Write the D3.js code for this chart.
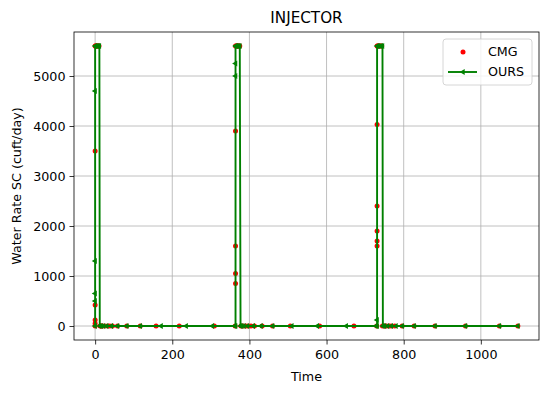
<!DOCTYPE html>
<meta charset="utf-8">
<style>
body { margin: 0; background: #fff; }
text { font-family: "DejaVu Sans", sans-serif; fill: #000; }
.grid line { stroke: #b0b0b0; stroke-width: 0.8; }
.axis path { display: none; }
.axis line { stroke: #000; stroke-width: 0.8; }
.axis text { font-size: 12.7px; }
</style>
<svg width="549" height="393"></svg>
<script src="https://cdn.jsdelivr.net/npm/d3@7"></script>
<script>

// CMG reference results (red dots)
var cmgTime = [0, 0, 0, 0, 0, 0, 1, 2, 4, 6, 8, 10,
    13, 15, 17, 23, 32, 38, 45, 58, 82, 117, 158, 218, 309, 363,
    364, 364, 364, 364, 364, 365, 367, 369, 371, 373, 375,
    378, 383, 390, 396, 404, 413, 433, 460, 506, 582, 671, 730,
    731, 731, 731, 731, 731, 731, 732, 734, 737, 740, 743,
    745, 750, 755, 762, 768, 777, 796, 827, 881, 960, 1048, 1096];
var cmgRate = [0, 50, 120, 420, 3500, 5600, 5600, 5600, 5600, 5600, 5600, 5600,
    0, 0, 0, 0, 0, 0, 0, 0, 0, 0, 0, 0, 0, 0,
    850, 1050, 1600, 3900, 5600, 5600, 5600, 5600, 5600, 5600, 5600,
    0, 0, 0, 0, 0, 0, 0, 0, 0, 0, 0, 0,
    1600, 1700, 1900, 2400, 4030, 5600, 5600, 5600, 5600, 5600, 5600,
    0, 0, 0, 0, 0, 0, 0, 0, 0, 0, 0, 0];

// our simulator (green line)
var oursTime = [0, 0, 0, 0, 0, 0, 2, 5, 8, 11,
    12, 16, 22, 30, 42, 58, 82, 117, 171, 236, 304, 362,
    364, 364, 364, 364, 366, 369, 372, 375,
    377, 380, 386, 395, 410, 430, 460, 510, 576, 651, 728,
    731, 731, 731, 734, 738, 742, 745,
    746, 750, 758, 768, 780, 796, 827, 881, 960, 1048, 1096];
var oursRate = [0, 500, 650, 1300, 4700, 5600, 5600, 5600, 5600, 5600,
    0, 0, 0, 0, 0, 0, 0, 0, 0, 0, 0, 0,
    0, 5000, 5250, 5600, 5600, 5600, 5600, 5600,
    0, 0, 0, 0, 0, 0, 0, 0, 0, 0, 0,
    0, 120, 5600, 5600, 5600, 5600, 5600,
    0, 0, 0, 0, 0, 0, 0, 0, 0, 0, 0];

var xTicks = [0, 200, 400, 600, 800, 1000];
var yTicks = [0, 1000, 2000, 3000, 4000, 5000];

var svg = d3.select("svg"),
    margin = {top: 32, right: 10, bottom: 53, left: 74},
    width = +svg.attr("width") - margin.left - margin.right,
    height = +svg.attr("height") - margin.top - margin.bottom,
    g = svg.append("g").attr("transform", "translate(" + margin.left + "," + margin.top + ")");

// matplotlib style 5% margins
var xmax = d3.max(oursTime), ymax = d3.max(cmgRate);
var x = d3.scaleLinear().domain([-0.05 * xmax, xmax * 1.05]).range([0, width]);
var y = d3.scaleLinear().domain([-0.05 * ymax, ymax * 1.05]).range([height, 0]);

// grid
g.append("g").attr("class", "grid")
    .selectAll("line").data(xTicks).enter().append("line")
    .attr("x1", d => x(d)).attr("x2", d => x(d))
    .attr("y1", 0).attr("y2", height);
g.append("g").attr("class", "grid")
    .selectAll("line").data(yTicks).enter().append("line")
    .attr("y1", d => y(d)).attr("y2", d => y(d))
    .attr("x1", 0).attr("x2", width);

// axes
g.append("g").attr("class", "axis")
    .attr("transform", "translate(0," + height + ")")
    .call(d3.axisBottom(x).tickValues(xTicks).tickFormat(d3.format("d")).tickSizeOuter(0).tickSize(4.5).tickPadding(5));
g.append("g").attr("class", "axis")
    .call(d3.axisLeft(y).tickValues(yTicks).tickFormat(d3.format("d")).tickSizeOuter(0).tickSize(4.5).tickPadding(4));

// CMG dots
var cmg = cmgTime.map((t, i) => [t, cmgRate[i]]);
g.append("g").selectAll("circle").data(cmg).enter().append("circle")
    .attr("cx", d => x(d[0])).attr("cy", d => y(d[1]))
    .attr("r", 2.5).attr("fill", "#ff0000");

// OURS line + markers
var ours = oursTime.map((t, i) => [t, oursRate[i]]);
g.append("path").datum(ours)
    .attr("fill", "none").attr("stroke", "#008000").attr("stroke-width", 1.9)
    .attr("stroke-linejoin", "round")
    .attr("d", d3.line().x(d => x(d[0])).y(d => y(d[1])));

var tri = d3.symbol().type(d3.symbolTriangle).size(15);
g.append("g").selectAll("path").data(ours).enter().append("path")
    .attr("d", tri)
    .attr("fill", "#008000")
    .attr("transform", d => "translate(" + x(d[0]) + "," + y(d[1]) + ") rotate(-90)");

// frame
g.append("rect").attr("width", width).attr("height", height)
    .attr("fill", "none").attr("stroke", "#000").attr("stroke-width", 0.8);

// title & labels
svg.append("text").attr("x", margin.left + width / 2).attr("y", 23)
    .attr("text-anchor", "middle").style("font-size", "15.2px").text("INJECTOR");
svg.append("text").attr("x", margin.left + width / 2).attr("y", 381)
    .attr("text-anchor", "middle").style("font-size", "12.7px").text("Time");
svg.append("text")
    .attr("transform", "translate(21," + (margin.top + height / 2) + ") rotate(-90)")
    .attr("text-anchor", "middle").style("font-size", "12.7px").text("Water Rate SC (cuft/day)");

// legend
var lg = svg.append("g").attr("transform", "translate(443,39)");
lg.append("rect").attr("width", 89).attr("height", 46).attr("rx", 3)
    .attr("fill", "#fff").attr("fill-opacity", 0.8).attr("stroke", "#cccccc").attr("stroke-width", 0.8);
lg.append("circle").attr("cx", 20).attr("cy", 13).attr("r", 2.5).attr("fill", "#ff0000");
lg.append("text").attr("x", 45).attr("y", 13).attr("dy", "0.35em").style("font-size", "12.7px").text("CMG");
lg.append("line").attr("x1", 5).attr("x2", 34).attr("y1", 33).attr("y2", 33)
    .attr("stroke", "#008000").attr("stroke-width", 1.9);
lg.append("path").attr("d", tri).attr("fill", "#008000").attr("transform", "translate(20,33) rotate(-90)");
lg.append("text").attr("x", 45).attr("y", 33).attr("dy", "0.35em").style("font-size", "12.7px").text("OURS");

</script>
